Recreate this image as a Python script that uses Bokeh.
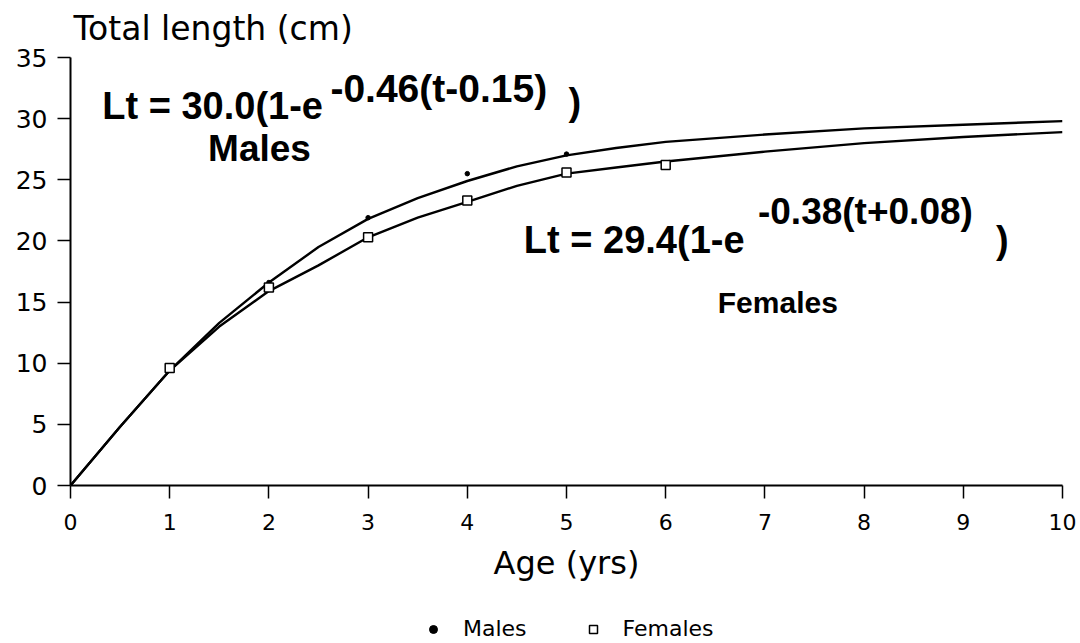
from bokeh.plotting import figure
from bokeh.models import Range1d, Label, Legend, LegendItem, FixedTicker
from bokeh.layouts import column
from bokeh.embed import file_html
from bokeh.resources import INLINE

# ---- data ----
curve_age = [0, 0.5, 1, 1.5, 2, 2.5, 3, 3.5, 4, 4.5, 5, 5.5, 6, 7, 8, 9, 10]
male_curve = [0, 4.8, 9.4, 13.3, 16.6, 19.5, 21.8, 23.5, 24.9, 26.1, 27.0, 27.6, 28.1, 28.7, 29.2, 29.5, 29.8]
female_curve = [0, 4.8, 9.4, 13.0, 15.9, 18.0, 20.3, 21.9, 23.2, 24.5, 25.5, 26.0, 26.5, 27.3, 28.0, 28.5, 28.9]

male_age = [1, 2, 3, 4, 5]
male_len = [9.5, 16.6, 21.9, 25.5, 27.1]
female_age = [1, 2, 3, 4, 5, 6]
female_len = [9.6, 16.2, 20.3, 23.3, 25.6, 26.2]

x_ticks = [0, 1, 2, 3, 4, 5, 6, 7, 8, 9, 10]
y_ticks = [0, 5, 10, 15, 20, 25, 30, 35]

male_eq = "Lt = 30.0(1-e"
male_exp = "-0.46(t-0.15)"
female_eq = "Lt = 29.4(1-e"
female_exp = "-0.38(t+0.08)"
legend_labels = ["Males", "Females"]

FONT = "DejaVu Sans"
BOLD = "Liberation Sans"

p = figure(width=1080, height=603, x_range=Range1d(0, 10), y_range=Range1d(0, 35),
           output_backend="svg", toolbar_location=None,
           min_border_left=70, min_border_right=18, min_border_top=57, min_border_bottom=118)
p.frame_width = 992
p.frame_height = 428
p.background_fill_color = "white"
p.border_fill_color = "white"
p.outline_line_color = None
p.xgrid.visible = False
p.ygrid.visible = False

# title (y axis title)
p.title.text = "Total length (cm)"
p.title.text_font = FONT
p.title.text_font_size = "33px"
p.title.text_font_style = "normal"
p.title.text_color = "black"
p.title.align = "left"
p.title.vertical_align = "top"
p.title.offset = 3
p.title.standoff = 15

# axes
for ax in (p.xaxis[0], p.yaxis[0]):
    ax.axis_line_color = "black"
    ax.axis_line_width = 2
    ax.major_tick_line_color = "black"
    ax.major_tick_line_width = 1.5
    ax.major_tick_in = 0
    ax.minor_tick_line_color = None
    ax.major_label_text_font = FONT
    ax.major_label_text_color = "black"

p.xaxis.ticker = FixedTicker(ticks=x_ticks)
p.xaxis.major_tick_out = 13
p.xaxis.major_label_text_font_size = "22px"
p.xaxis.major_label_standoff = 15
p.xaxis.axis_label = "Age (yrs)"
p.xaxis.axis_label_text_font = FONT
p.xaxis.axis_label_text_font_size = "32px"
p.xaxis.axis_label_text_font_style = "normal"
p.xaxis.axis_label_text_color = "black"
p.xaxis.axis_label_standoff = 11

p.yaxis.ticker = FixedTicker(ticks=y_ticks)
p.yaxis.major_tick_out = 13
p.yaxis.major_label_text_font_size = "25px"
p.yaxis.major_label_standoff = 10

# curves
p.line(curve_age, male_curve, line_color="black", line_width=2.4)
p.line(curve_age, female_curve, line_color="black", line_width=2.4)

# observed points
MALE_STYLE = dict(marker="circle", size=4.5, fill_color="black", line_color="black")
FEMALE_STYLE = dict(marker="square", size=9, fill_color="white", line_color="black", line_width=1.5)
p.scatter(male_age, male_len, **MALE_STYLE)
p.scatter(female_age, female_len, **FEMALE_STYLE)

# equation texts (data coordinates)
def lab(x, y, text, size, align="left"):
    p.add_layout(Label(x=x, y=y, text=text, text_font=BOLD, text_font_size=size,
                       text_font_style="bold", text_color="black",
                       text_align=align, text_baseline="alphabetic"))

lab(0.32, 31.0, male_eq, "38px")
lab(2.62, 32.5, male_exp, "39px")
lab(5.02, 31.4, ")", "38px")
lab(1.905, 27.55, "Males", "37px", align="center")

lab(4.57, 20.1, female_eq, "38px")
lab(6.93, 22.4, female_exp, "37px")
lab(9.33, 20.1, ")", "38px")
lab(7.13, 15.0, "Females", "30px", align="center")

# legend strip below the chart (its renderers hold one point outside the visible range)
p2 = figure(width=1080, height=40, output_backend="svg", toolbar_location=None,
            min_border_left=0, min_border_right=0, min_border_top=0, min_border_bottom=0,
            x_range=Range1d(0, 1), y_range=Range1d(0, 1))
p2.axis.visible = False
p2.xgrid.visible = False
p2.ygrid.visible = False
p2.outline_line_color = None
p2.background_fill_color = "white"
p2.border_fill_color = "white"
lm = p2.scatter([5], [5], **MALE_STYLE)
lf = p2.scatter([5], [5], **FEMALE_STYLE)
legend = Legend(items=[LegendItem(label=legend_labels[0], renderers=[lm]),
                       LegendItem(label=legend_labels[1], renderers=[lf])],
                orientation="horizontal", location=(353, 2),
                label_text_font=FONT, label_text_font_size="22px", label_text_color="black",
                glyph_width=20, glyph_height=20, label_standoff=20, spacing=56,
                padding=0, margin=0, border_line_color=None, background_fill_alpha=0)
p2.add_layout(legend, "center")

layout = column(p, p2, spacing=0)
open("out.html", "w").write(file_html(layout, INLINE))
